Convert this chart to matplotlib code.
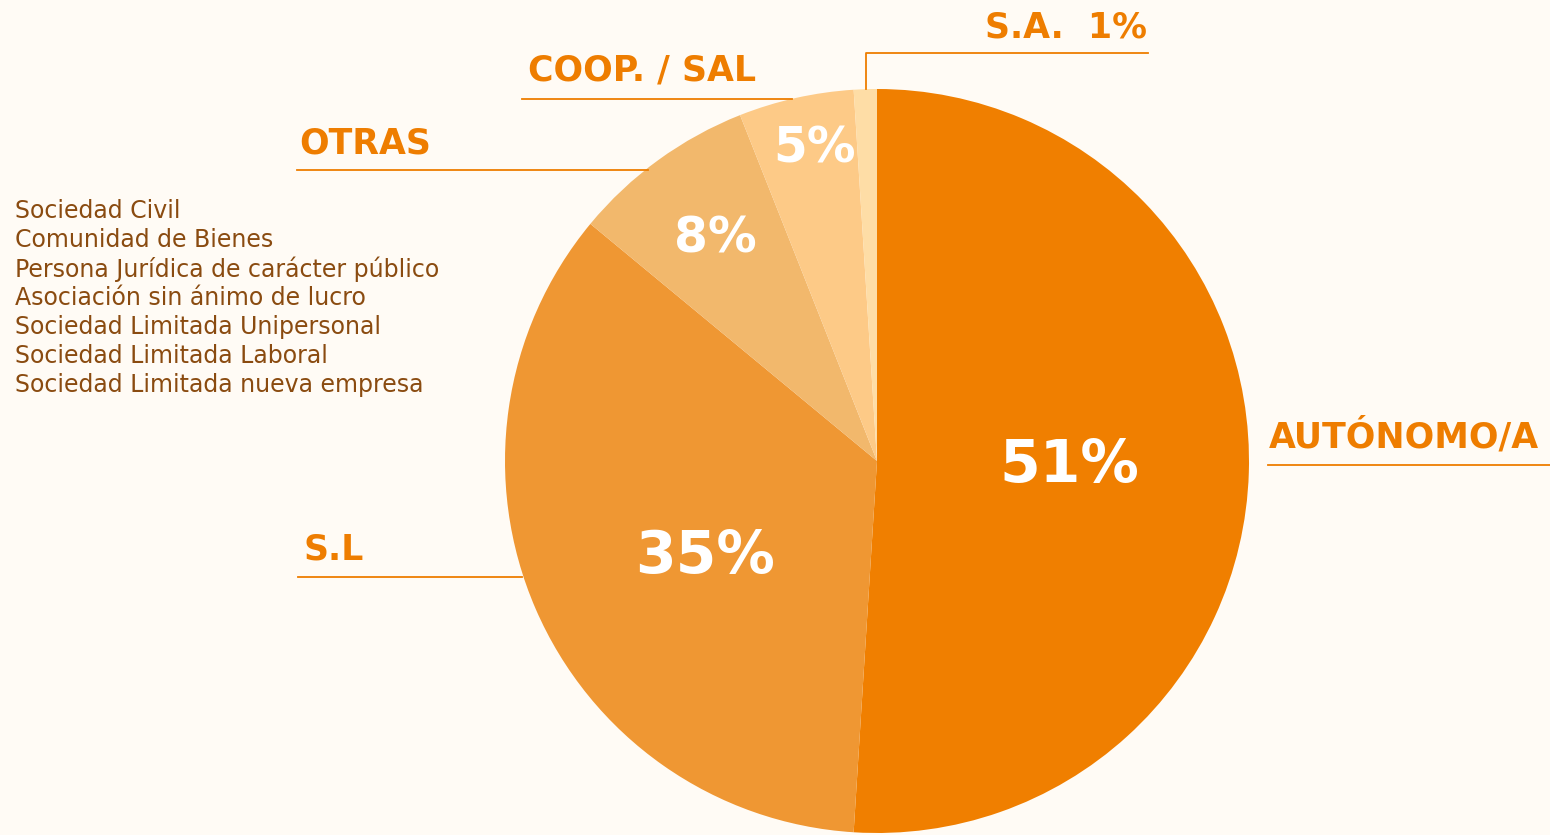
import matplotlib.pyplot as plt

# data
categories = ['AUTÓNOMO/A', 'S.L', 'OTRAS', 'COOP. / SAL', 'S.A.']
values = [51, 35, 8, 5, 1]
colors = ['#F07F00', '#EF9733', '#F2B86C', '#FDCA87', '#FEDDA6']
otras_list = ['Sociedad Civil', 'Comunidad de Bienes',
              'Persona Jurídica de carácter público',
              'Asociación sin ánimo de lucro',
              'Sociedad Limitada Unipersonal',
              'Sociedad Limitada Laboral',
              'Sociedad Limitada nueva empresa']

W, H = 1550, 835
bg = '#FFFBF5'
orange = '#EE7D00'
brown = '#8A4B10'

fig = plt.figure(figsize=(W / 100, H / 100), dpi=100, facecolor=bg)
ax = fig.add_axes([0, 0, 1, 1])
ax.axis('off')

cx, cy, r = 877, H - 461, 372
ax.pie(values, colors=colors, startangle=90, counterclock=False,
       center=(cx, cy), radius=r, wedgeprops=dict(linewidth=0))
ax.set_xlim(0, W)
ax.set_ylim(0, H)
ax.set_aspect('equal')

# percentages inside the wedges (offsets from centre, in radii)
pct_pos = [(0.516, -0.013), (-0.462, -0.258), (-0.435, 0.597), (-0.169, 0.839), None]
pct_size = [42, 42, 35, 35, 0]
for i, v in enumerate(values):
    if pct_pos[i] is None:
        continue
    ax.text(cx + pct_pos[i][0] * r, cy + pct_pos[i][1] * r, f'{v}%',
            color='white', fontsize=pct_size[i], fontweight='bold',
            ha='center', va='center')

lw = 1.3
fs = 25
# AUTÓNOMO/A
ax.plot([1268, 1550], [H - 465, H - 465], color=orange, lw=lw)
ax.text(1269, H - 436, categories[0], color=orange, fontsize=fs,
        fontweight='bold', va='center', ha='left')
# S.L
ax.plot([298, 522], [H - 577, H - 577], color=orange, lw=lw)
ax.text(304, H - 549, categories[1], color=orange, fontsize=fs,
        fontweight='bold', va='center', ha='left')
# OTRAS
ax.plot([297, 648], [H - 170, H - 170], color=orange, lw=lw)
ax.text(299, H - 143, categories[2], color=orange, fontsize=fs,
        fontweight='bold', va='center', ha='left')
# COOP. / SAL
ax.plot([522, 792], [H - 99, H - 99], color=orange, lw=lw)
ax.text(528, H - 70, categories[3], color=orange, fontsize=fs,
        fontweight='bold', va='center', ha='left')
# S.A.
ax.plot([866, 866, 1148], [H - 89, H - 53, H - 53], color=orange, lw=lw)
ax.text(1147, H - 27, f'{categories[4]}  {values[4]}%', color=orange,
        fontsize=fs, fontweight='bold', va='center', ha='right')

# list of "otras"
for k, s in enumerate(otras_list):
    ax.text(15, H - (211 + k * 29), s, color=brown, fontsize=17,
            va='center', ha='left')

fig.savefig('out.png', dpi=100, facecolor=bg)
